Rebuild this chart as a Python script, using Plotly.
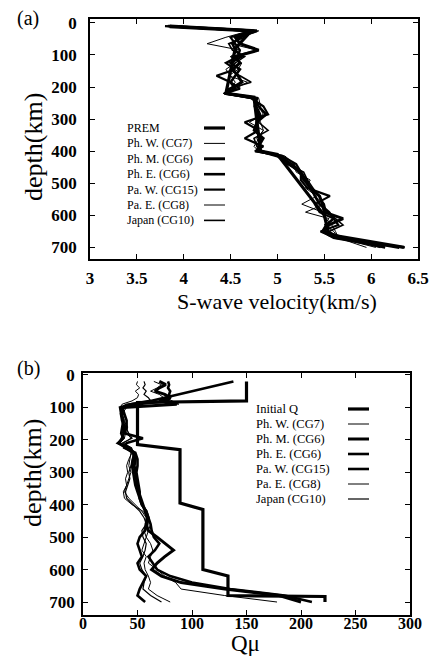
import plotly.graph_objects as go

W, H = 443, 657
FONT = "Liberation Serif"

# ---------------- Panel (a): S-wave velocity ----------------
prem_depth = [12, 25, 80, 220, 232, 400, 410, 600, 660, 700]
prem_vs = [3.85, 4.72, 4.55, 4.45, 4.75, 4.82, 5.0, 5.5, 5.55, 6.35]

depth_a = [10, 25, 45, 65, 85, 105, 125, 145, 165, 185, 205, 220, 235, 260, 285,
           310, 335, 360, 385, 400, 415, 440, 465, 490, 515, 540, 565, 590, 610,
           630, 650, 670, 685, 700]
vs_phw = [3.82, 4.70, 4.45, 4.25, 4.60, 4.50, 4.55, 4.45, 4.50, 4.55, 4.50, 4.42, 4.76,
          4.80, 4.85, 4.70, 4.85, 4.78, 4.82, 4.80, 5.02, 5.12, 5.22, 5.30, 5.33, 5.40,
          5.50, 5.30, 5.55, 5.50, 5.60, 5.65, 5.85, 6.05]
vs_phm = [3.85, 4.78, 4.55, 4.60, 4.80, 4.55, 4.60, 4.52, 4.58, 4.62, 4.50, 4.45, 4.78,
          4.76, 4.80, 4.78, 4.78, 4.82, 4.80, 4.82, 5.00, 5.15, 5.25, 5.30, 5.35, 5.45,
          5.48, 5.50, 5.70, 5.55, 5.50, 5.70, 6.00, 6.30]
vs_phe = [3.83, 4.75, 4.60, 4.52, 4.55, 4.62, 4.50, 4.60, 4.55, 4.50, 4.55, 4.46, 4.75,
          4.80, 4.88, 4.78, 4.75, 4.85, 4.80, 4.78, 5.05, 5.12, 5.24, 5.28, 5.36, 5.40,
          5.45, 5.55, 5.60, 5.52, 5.48, 5.60, 5.90, 6.15]
vs_paw = [3.80, 4.72, 4.50, 4.55, 4.60, 4.58, 4.45, 4.55, 4.35, 4.50, 4.60, 4.44, 4.72,
          4.85, 4.90, 4.65, 4.80, 4.65, 4.85, 4.76, 5.05, 5.20, 5.25, 5.25, 5.32, 5.56,
          5.40, 5.45, 5.60, 5.65, 5.46, 5.62, 5.95, 6.36]
vs_pae = [3.84, 4.80, 4.62, 4.50, 4.78, 4.50, 4.62, 4.58, 4.48, 4.68, 4.55, 4.43, 4.80,
          4.82, 4.78, 4.82, 4.85, 4.80, 4.75, 4.80, 5.08, 5.18, 5.20, 5.35, 5.30, 5.42,
          5.26, 5.48, 5.52, 5.58, 5.62, 5.65, 5.80, 5.95]
vs_jpn = [3.86, 4.74, 4.65, 4.48, 4.52, 4.65, 4.55, 4.50, 4.60, 4.72, 4.48, 4.47, 4.77,
          4.78, 4.82, 4.80, 4.90, 4.75, 4.78, 4.82, 5.00, 5.10, 5.28, 5.32, 5.38, 5.44,
          5.50, 5.52, 5.62, 5.70, 5.55, 5.66, 5.92, 6.10]

legend_a = ["PREM", "Ph. W. (CG7)", "Ph. M. (CG6)", "Ph. E. (CG6)",
            "Pa. W. (CG15)", "Pa. E. (CG8)", "Japan (CG10)"]
widths_a = [3.2, 1.0, 3.0, 2.6, 2.2, 1.0, 1.6]

x_ticks_a = [3, 3.5, 4, 4.5, 5, 5.5, 6, 6.5]
x_ticklabels_a = ["3", "3.5", "4", "4.5", "5", "5.5", "6", "6.5"]
depth_ticks = [0, 100, 200, 300, 400, 500, 600, 700]

# ---------------- Panel (b): Q mu ----------------
initq_depth = [20, 80, 85, 215, 230, 395, 415, 600, 620, 680, 683, 700]
initq_q = [150, 150, 50, 50, 89, 89, 110, 110, 133, 133, 222, 222]

depth_b = [20, 30, 40, 50, 60, 70, 80, 90, 100, 120, 140, 160, 180, 195, 210, 225,
           240, 260, 280, 300, 320, 340, 360, 380, 400, 420, 440, 460, 480, 500,
           520, 540, 560, 580, 600, 620, 640, 660, 680, 700]
q_phw = [50, 49, 52, 48, 51, 50, 45, 36, 34, 36, 38, 37, 39, 38, 34, 42, 45, 42, 40, 41,
         39, 40, 38, 42, 48, 54, 58, 57, 56, 58, 56, 54, 58, 56, 57, 60, 62, 60, 68, 80]
q_phm = [70, 76, 70, 66, 75, 80, 70, 86, 37, 35, 36, 38, 37, 36, 33, 40, 46, 48, 47, 48,
         49, 50, 51, 53, 55, 57, 59, 58, 60, 68, 76, 83, 75, 68, 63, 72, 90, 130, 180, 200]
q_phe = [78, 79, 78, 80, 79, 80, 78, 50, 36, 38, 40, 40, 38, 55, 40, 38, 48, 50, 50, 49,
         50, 51, 52, 52, 54, 58, 60, 59, 57, 52, 50, 52, 54, 50, 52, 58, 55, 52, 50, 57]
q_paw = [138, 125, 112, 100, 88, 76, 62, 45, 34, 35, 37, 36, 35, 37, 32, 42, 47, 46, 45,
         46, 47, 48, 50, 52, 54, 58, 60, 62, 63, 65, 70, 66, 60, 64, 68, 80, 100, 135,
         185, 210]
q_pae = [65, 72, 68, 62, 70, 74, 82, 88, 40, 36, 37, 41, 40, 44, 37, 45, 44, 43, 42, 44,
         42, 40, 37, 38, 45, 55, 60, 62, 60, 58, 62, 64, 62, 60, 68, 75, 85, 90, 130, 178]
q_jpn = [56, 57, 55, 58, 56, 60, 62, 40, 35, 37, 40, 39, 42, 45, 36, 44, 47, 45, 44, 42,
         43, 41, 39, 40, 46, 52, 56, 58, 54, 55, 58, 57, 55, 52, 54, 58, 56, 55, 62, 72]

legend_b = ["Initial Q", "Ph. W. (CG7)", "Ph. M. (CG6)", "Ph. E. (CG6)",
            "Pa. W. (CG15)", "Pa. E. (CG8)", "Japan (CG10)"]
widths_b = [3.2, 1.0, 3.0, 2.6, 2.6, 1.0, 1.2]

x_ticks_b = [0, 50, 100, 150, 200, 250, 300]

# ---------------- Figure ----------------
fig = go.Figure()

series_a = [(prem_depth, prem_vs), (depth_a, vs_phw), (depth_a, vs_phm), (depth_a, vs_phe),
            (depth_a, vs_paw), (depth_a, vs_pae), (depth_a, vs_jpn)]
for (d, v), name, w in zip(series_a, legend_a, widths_a):
    fig.add_trace(go.Scatter(x=v, y=d, mode="lines", name=name, showlegend=False,
                             line=dict(color="black", width=w), xaxis="x", yaxis="y"))

series_b = [(initq_depth, initq_q), (depth_b, q_phw), (depth_b, q_phm), (depth_b, q_phe),
            (depth_b, q_paw), (depth_b, q_pae), (depth_b, q_jpn)]
for (d, q), name, w in zip(series_b, legend_b, widths_b):
    fig.add_trace(go.Scatter(x=q, y=d, mode="lines", name=name, showlegend=False,
                             line=dict(color="black", width=w),
                             xaxis="x2", yaxis="y2"))

def px_x(p):
    return p / W

def px_y(p):
    return 1 - p / H

tickfont = dict(family=FONT, size=17, color="black", weight="bold")
axis_common = dict(showline=True, linecolor="black", linewidth=1.5, mirror="ticks",
                   ticks="inside", ticklen=5, tickcolor="black", showgrid=False,
                   zeroline=False, automargin=False)

fig.update_layout(
    template="none",
    font=dict(family=FONT, color="black"),
    width=W, height=H,
    margin=dict(l=0, r=0, t=0, b=0, autoexpand=False),
    paper_bgcolor="white", plot_bgcolor="white",
    showlegend=False,
    xaxis=dict(domain=[px_x(90), px_x(418)], range=[3, 6.5], anchor="y",
               tickvals=x_ticks_a, ticktext=x_ticklabels_a, ticklabelstandoff=3,
               tickfont=tickfont, **axis_common),
    yaxis=dict(domain=[px_y(259), px_y(19)], range=[736, -12], anchor="x",
               tickvals=depth_ticks, ticklabelstandoff=8, tickfont=tickfont, **axis_common),
    xaxis2=dict(domain=[px_x(83), px_x(410)], range=[0, 300], anchor="y2",
                tickvals=x_ticks_b, ticklabelstandoff=-7,
                tickfont=dict(family=FONT, size=16, color="black", weight="bold"),
                **axis_common),
    yaxis2=dict(domain=[px_y(615), px_y(373)], range=[740, -6], anchor="x2",
                tickvals=depth_ticks, ticklabelstandoff=3, tickfont=tickfont, **axis_common),
)

ann = []
def text(x, y, s, size, angle=0, xanchor="center", yanchor="middle"):
    ann.append(dict(x=px_x(x), y=px_y(y), xref="paper", yref="paper", text=s,
                    showarrow=False, xanchor=xanchor, yanchor=yanchor, textangle=angle,
                    borderpad=0,
                    font=dict(family=FONT, size=size, color="black")))

text(28, 18, "(a)", 20)
text(28, 368, "(b)", 20)
text(34, 147, "depth(km)", 26, angle=-90)
text(32, 473, "depth(km)", 26, angle=-90)
text(277, 301, "S-wave velocity(km/s)", 22)
text(245, 657, "Qμ", 23, yanchor="bottom")

shapes = []
# legend (a)
for i, (name, w) in enumerate(zip(legend_a, widths_a)):
    y = 128 + i * 15.4
    text(126, y, name, 12, xanchor="left")
    shapes.append(dict(type="line", xref="paper", yref="paper",
                       x0=px_x(204), x1=px_x(225), y0=px_y(y), y1=px_y(y),
                       line=dict(color="black", width=w)))
# legend (b)
for i, (name, w) in enumerate(zip(legend_b, widths_b)):
    y = 409 + i * 15.0
    text(255, y, name, 12.5, xanchor="left")
    shapes.append(dict(type="line", xref="paper", yref="paper",
                       x0=px_x(348), x1=px_x(369), y0=px_y(y), y1=px_y(y),
                       line=dict(color="black", width=w)))

fig.update_layout(annotations=ann, shapes=shapes)
fig.write_html("out.html", config={"displayModeBar": False},
               post_script="document.body.style.margin='0';document.body.style.padding='0';")
